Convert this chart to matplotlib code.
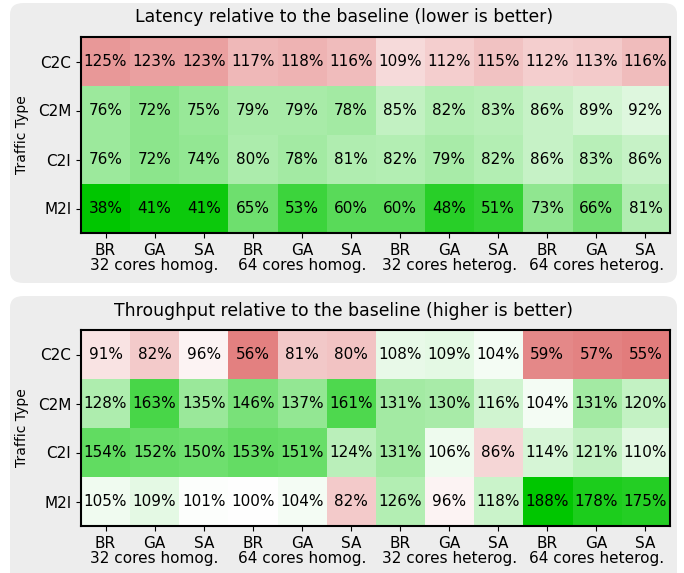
import matplotlib.pyplot as plt
import numpy as np
from matplotlib.colors import LinearSegmentedColormap, Normalize
from matplotlib.patches import FancyBboxPatch

traffic = ["C2C", "C2M", "C2I", "M2I"]
algos = ["BR", "GA", "SA"] * 4
groups = ["32 cores homog.", "64 cores homog.", "32 cores heterog.", "64 cores heterog."]

latency = np.array([
    [125, 123, 123, 117, 118, 116, 109, 112, 115, 112, 113, 116],
    [76, 72, 75, 79, 79, 78, 85, 82, 83, 86, 89, 92],
    [76, 72, 74, 80, 78, 81, 82, 79, 82, 86, 83, 86],
    [38, 41, 41, 65, 53, 60, 60, 48, 51, 73, 66, 81],
])
throughput = np.array([
    [91, 82, 96, 56, 81, 80, 108, 109, 104, 59, 57, 55],
    [128, 163, 135, 146, 137, 161, 131, 130, 116, 104, 131, 120],
    [154, 152, 150, 153, 151, 124, 131, 106, 86, 114, 121, 110],
    [105, 109, 101, 100, 104, 82, 126, 96, 118, 188, 178, 175],
])

W, H = 684, 573
fig = plt.figure(figsize=(W / 100, H / 100), dpi=100)

# red -> white -> green
cmap = LinearSegmentedColormap.from_list("rwg", [(0.78, 0, 0), (1, 1, 1), (0, 0.78, 0)])


def px(x0, y0, x1, y1):
    return [x0 / W, 1 - y1 / H, (x1 - x0) / W, (y1 - y0) / H]


def panel(data, title, box_top, box_bot, ax_top, ax_bot, title_y, lower_better):
    box = FancyBboxPatch((10 / W, 1 - box_bot / H), 667 / W, (box_bot - box_top) / H,
                         boxstyle="round,pad=0,rounding_size=0.02",
                         transform=fig.transFigure, facecolor="#ededed",
                         edgecolor="none", zorder=-10)
    fig.patches.append(box)
    fig.text(344 / W, 1 - title_y / H, title, ha="center", va="center", fontsize=12.4)

    ax = fig.add_axes(px(81, ax_top, 670, ax_bot))
    vals = data / 100.0
    dev = np.abs(vals - 1).max()  # symmetric around the baseline
    norm = Normalize(1 - dev, 1 + dev)
    cm = cmap.reversed() if lower_better else cmap
    ax.imshow(vals, cmap=cm, norm=norm, aspect="auto")
    for r in range(data.shape[0]):
        for c in range(data.shape[1]):
            ax.text(c, r, "%d%%" % data[r, c], ha="center", va="center", fontsize=11)
    ax.set_xticks(range(len(algos)))
    ax.set_xticklabels(algos, fontsize=11)
    ax.set_yticks(range(len(traffic)))
    ax.set_yticklabels(traffic, fontsize=11)
    ax.set_ylabel("Traffic Type", fontsize=10)
    ax.yaxis.set_label_coords(-0.088, 0.5)
    for s in ax.spines.values():
        s.set_linewidth(1.5)
    # group labels under the middle column of each group
    for g, name in enumerate(groups):
        ax.text(3 * g + 1, -25 / 196, name, ha="center", va="top", fontsize=11,
                transform=ax.get_xaxis_transform(), clip_on=False)
    return ax


panel(latency, "Latency relative to the baseline (lower is better)",
      3, 283, 37, 233, 17, True)
panel(throughput, "Throughput relative to the baseline (higher is better)",
      296, 600, 330, 526, 311, False)

fig.savefig("out.png", dpi=100)
